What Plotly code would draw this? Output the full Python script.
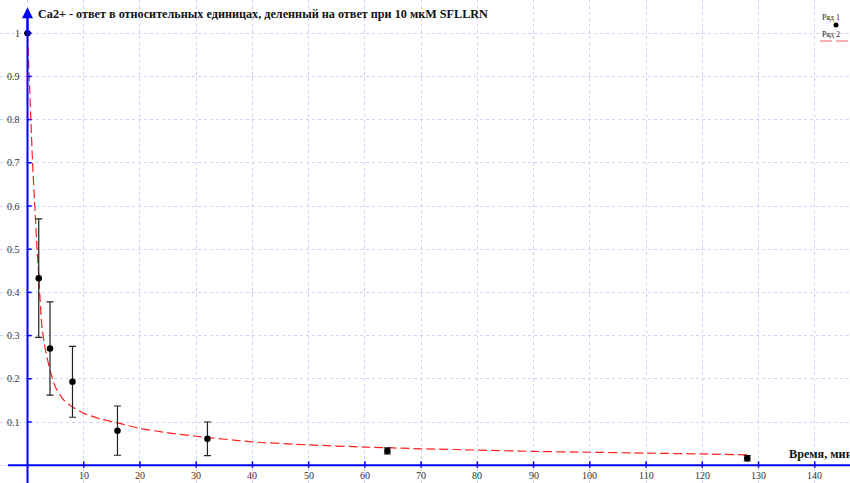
import plotly.graph_objects as go

# ---- data ----
time_points = [0, 2, 4, 8, 16, 32, 64, 128]
response = [1.0, 0.433, 0.270, 0.193, 0.080, 0.061, 0.033, 0.016]
response_err = [0.0, 0.137, 0.108, 0.082, 0.057, 0.039, 0.007, 0.006]

fit_time = [0, 0.3, 0.6, 0.9, 1.3, 1.7, 2.0, 2.5, 3.0, 4.0, 5.0, 6.5, 8, 10, 13, 16,
            20, 25, 30, 40, 50, 60, 70, 80, 90, 100, 110, 120, 128]
fit_value = [1.0, 0.9, 0.8, 0.7, 0.6, 0.5, 0.44, 0.33, 0.28, 0.22, 0.18, 0.15, 0.135,
             0.12, 0.107, 0.098, 0.085, 0.075, 0.067, 0.054, 0.047, 0.042, 0.038,
             0.035, 0.032, 0.030, 0.028, 0.026, 0.024]

x_ticks = [10, 20, 30, 40, 50, 60, 70, 80, 90, 100, 110, 120, 130, 140]
y_ticks = [0.1, 0.2, 0.3, 0.4, 0.5, 0.6, 0.7, 0.8, 0.9, 1]
y_tick_labels = ["0.1", "0.2", "0.3", "0.4", "0.5", "0.6", "0.7", "0.8", "0.9", "1"]

title_text = "Ca2+ - ответ в относительных единицах, деленный на ответ при 10 мкМ SFLLRN"
x_title = "Время, мин"
series_names = ["Ряд 1", "Ряд 2"]

AXIS = "#0000ff"
GRID = "#d0d0fa"
SERIF = "Liberation Serif, Times New Roman, serif"

fig = go.Figure()

fig.add_trace(go.Scatter(
    x=fit_time, y=fit_value, mode="lines", name=series_names[1],
    line=dict(color="#ff2020", width=1.2, dash="9px,4px", shape="spline", smoothing=0.6),
    showlegend=False, hoverinfo="skip"))

fig.add_trace(go.Scatter(
    x=time_points, y=response, mode="markers", name=series_names[0],
    marker=dict(color="black", size=6.5, symbol="circle"),
    error_y=dict(type="data", array=response_err, visible=True,
                 color="#222222", thickness=1.2, width=3.5),
    showlegend=False))

shapes = []
annotations = []

# axes lines
shapes.append(dict(type="line", xref="paper", yref="y", x0=0.0095, x1=1, y0=0, y1=0,
                   line=dict(color=AXIS, width=2), layer="above"))
shapes.append(dict(type="line", xref="x", yref="paper", x0=0, x1=0, y0=0, y1=0.975,
                   line=dict(color=AXIS, width=2), layer="above"))
annotations.append(dict(x=0, y=1.06, ax=0, ay=1.0, xref="x", yref="y", axref="x", ayref="y",
                        text="", showarrow=True, arrowhead=2, arrowsize=1.1,
                        arrowwidth=2, arrowcolor=AXIS))

# tick marks and labels
for xt in x_ticks:
    shapes.append(dict(type="line", xref="x", yref="y", x0=xt, x1=xt, y0=0.009, y1=-0.006,
                       line=dict(color=AXIS, width=1.5), layer="above"))
    annotations.append(dict(x=xt, y=0, xref="x", yref="y", text=str(xt), showarrow=False,
                            yanchor="top", yshift=-3,
                            font=dict(family=SERIF, size=10, color="#333333")))
for yt, lab in zip(y_ticks, y_tick_labels):
    shapes.append(dict(type="line", xref="x", yref="y", x0=0, x1=0.75, y0=yt, y1=yt,
                       line=dict(color=AXIS, width=1.5), layer="above"))
    annotations.append(dict(x=0, y=yt, xref="x", yref="y", text=lab, showarrow=False,
                            xanchor="right", xshift=-6,
                            font=dict(family=SERIF, size=10, color="#333333")))

# title and axis title
annotations.append(dict(x=36 / 850, y=1 - 14 / 483, xref="paper", yref="paper",
                        text="<b>" + title_text + "</b>", showarrow=False,
                        xanchor="left", yanchor="middle",
                        font=dict(family=SERIF, size=12.2, color="#111111")))
annotations.append(dict(x=787 / 850, y=1 - 454 / 483, xref="paper", yref="paper",
                        text="<b>" + x_title + "</b>", showarrow=False,
                        xanchor="left", yanchor="middle",
                        font=dict(family=SERIF, size=12.2, color="#111111")))

# legend drawn manually
annotations.append(dict(x=820 / 850, y=1 - 18 / 483, xref="paper", yref="paper",
                        text=series_names[0], showarrow=False, xanchor="left", yanchor="middle",
                        font=dict(family=SERIF, size=8, color="#222222")))
annotations.append(dict(x=820 / 850, y=1 - 34 / 483, xref="paper", yref="paper",
                        text=series_names[1], showarrow=False, xanchor="left", yanchor="middle",
                        font=dict(family=SERIF, size=8, color="#222222")))
shapes.append(dict(type="circle", xref="paper", yref="paper",
                   x0=833.5 / 850, x1=838.5 / 850, y0=1 - 27.5 / 483, y1=1 - 22.5 / 483,
                   fillcolor="black", line=dict(color="black", width=0)))
shapes.append(dict(type="line", xref="paper", yref="paper",
                   x0=820 / 850, x1=1, y0=1 - 41 / 483, y1=1 - 41 / 483,
                   line=dict(color="#ff6060", width=1.2, dash="12px,4px")))

fig.update_layout(
    width=850, height=483,
    margin=dict(l=0, r=0, t=0, b=0),
    paper_bgcolor="white", plot_bgcolor="white",
    showlegend=False,
    shapes=shapes, annotations=annotations,
    xaxis=dict(range=[-4.89, 146.27], tickvals=[0] + x_ticks, showticklabels=False,
               showgrid=True, gridcolor=GRID, griddash="dot", gridwidth=1,
               zeroline=False, showline=False, ticks=""),
    yaxis=dict(range=[-0.0412, 1.0769], tickvals=[0] + y_ticks, showticklabels=False,
               showgrid=True, gridcolor=GRID, griddash="dot", gridwidth=1,
               zeroline=False, showline=False, ticks=""),
)

fig.write_html("out.html", config={"displayModeBar": False},
               post_script="document.body.style.margin='0';document.body.style.padding='0';"
                           "document.body.style.overflow='hidden';")
